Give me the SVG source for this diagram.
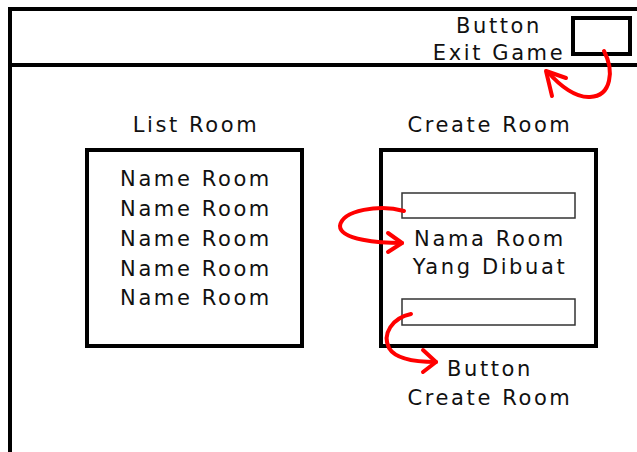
<svg xmlns="http://www.w3.org/2000/svg" width="637" height="452" viewBox="0 0 637 452">
  <style>
    .frame { fill: none; stroke: #000; stroke-width: 4; }
    .field { fill: #fff; stroke: #333; stroke-width: 1.5; }
    .lbl { font-family: "DejaVu Sans", sans-serif; font-size: 21px; letter-spacing: 2.6px; fill: #111; text-anchor: middle; }
    .arrow { fill: none; stroke: #f00; stroke-width: 4; stroke-linecap: round; stroke-linejoin: round; }
  </style>
  <rect width="637" height="452" fill="#fff"/>

  <!-- window frame with header bar -->
  <g id="window">
    <path class="frame" d="M10,460 V9 H640"/>
    <line class="frame" x1="10" y1="65" x2="640" y2="65"/>
  </g>

  <g id="exit-button">
    <rect class="frame" x="573" y="18" width="57" height="36"/>
    <text class="lbl" x="499" y="33">Button</text>
    <text class="lbl" x="499" y="60">Exit Game</text>
  </g>

  <g id="list-room">
    <text class="lbl" x="196" y="132">List Room</text>
    <rect class="frame" x="87" y="150" width="215" height="196"/>
    <text class="lbl" x="196" y="186">Name Room</text>
    <text class="lbl" x="196" y="216">Name Room</text>
    <text class="lbl" x="196" y="246">Name Room</text>
    <text class="lbl" x="196" y="276">Name Room</text>
    <text class="lbl" x="196" y="305">Name Room</text>
  </g>

  <g id="create-room">
    <text class="lbl" x="490" y="132">Create Room</text>
    <rect class="frame" x="381" y="150" width="215" height="196"/>
    <rect class="field" x="402" y="193" width="173" height="25"/>
    <text class="lbl" x="490" y="246">Nama Room</text>
    <text class="lbl" x="490" y="274">Yang Dibuat</text>
    <rect class="field" x="402" y="299" width="173" height="26"/>
    <text class="lbl" x="490" y="376">Button</text>
    <text class="lbl" x="490" y="405">Create Room</text>
  </g>

  <!-- red hand-drawn pointers -->
  <g id="connectors">
    <path class="arrow" d="M604,51 C614,70 612,96 590,97 C576,98 560,86 548,72"/>
    <path class="arrow" d="M552,96 L546,71 L566,78"/>

    <path class="arrow" d="M404,211 C380,204 342,210 340,226 C340,240 380,243 402,243"/>
    <path class="arrow" d="M388,233 L402,243 L388,252"/>

    <path class="arrow" d="M411,314 C392,318 382,334 389,348 C396,360 418,362 436,362"/>
    <path class="arrow" d="M423,350 L436,362 L423,372"/>
  </g>
</svg>
